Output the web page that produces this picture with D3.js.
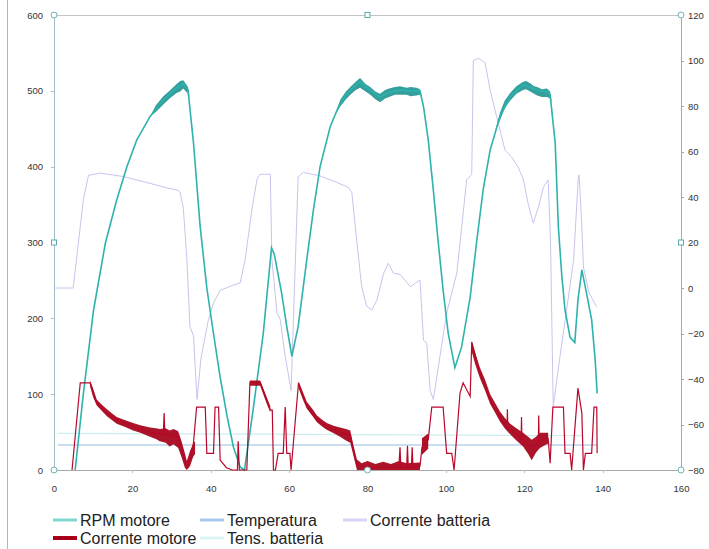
<!DOCTYPE html>
<meta charset="utf-8">
<head>
<style>
body {
  margin: 0;
  background: #fff;
  font-family: 'DejaVu Sans', sans-serif;
}

.axis text {
  font-size: 9.5px;
  fill: #333;
}

.axis path,
.axis line {
  fill: none;
  shape-rendering: crispEdges;
}

.legend text {
  font-family: 'Liberation Sans', Arial, sans-serif;
  font-size: 16px;
  fill: #222;
}
</style>
</head>

<body>
<div id="chart"></div>

<script src="https://d3js.org/d3.v7.min.js"></script>
<script>

// time in seconds
var rpmMotore = [[5.4,0],[7.5,101],[10.1,211],[13.1,299],[16,356],[18.6,400],[21.1,435],[24.5,466],[27.9,488],[31.3,504],[33,510],[34.2,501],[35.6,431],[37.3,321],[39,240],[40.7,180],[42.4,122],[44.2,70],[45.8,30],[47.5,4],[48.6,0],[50.8,79],[53.4,180],[55.5,293],[56.2,285],[58.1,233],[59.4,189],[60.7,150],[62.3,189],[64.5,277],[66.2,343],[67.9,400],[70.5,453],[73,484],[75.6,501],[78.1,512],[80.7,501],[83.2,492],[85.5,498],[88.3,501],[91,500],[93.4,500],[94.3,479],[95.5,435],[96.8,369],[98,303],[99.3,237],[100.6,180],[102.3,135],[104,162],[106.2,228],[107.9,303],[109.5,369],[111.3,422],[113.8,466],[116.4,492],[119.7,508],[121.5,505],[123.3,501],[125.8,499],[126.6,495],[127.9,431],[128.7,321],[129.6,255],[130.4,211],[131.7,175],[132.9,168],[133.7,224],[134.7,264],[135.9,233],[137.2,198],[138.1,145],[138.6,101]];

// noise envelope of the rpm trace near the peaks: [t, low, high]
var rpmBand = [[24.5,466,466],[26,472,481],[27.9,482,493],[29.5,490,500],[31.3,497,509],[32.2,499,513],[33,503,514],[34.2,496,505],[34.6,492,492],
  null,
  [72,470,470],[73,479,488],[74.5,489,499],[75.6,495,505],[77,501,512],[78.1,504,517],[79.5,499,509],[80.7,495,505],[82,489,499],[83.2,485,496],[84.5,490,501],[85.5,492,503],[87,495,505],[88.3,495,506],[90,495,504],[91,493,505],[92.5,494,504],[93.4,495,502],[93.8,490,490],
  null,
  [112.5,445,445],[113.8,461,471],[115,477,487],[116.4,487,497],[118,496,506],[119.7,501,512],[120.5,502,513],[121.5,499,510],[122.5,496,506],[123.3,494,505],[124.5,492,502],[125.8,492,503],[126.6,490,499],[127,485,485]];

var correnteMotore = [[4.6,0],[6.7,115],[9.2,115],[10.9,88],[13.5,75],[16,66],[20.2,57],[24.5,50],[27.9,47],[28.1,75],[28.3,47],[31.7,44],[32.6,26],[33.9,4],[34.7,13],[35.5,31],[36.4,83],[38.6,83],[39,22],[40.7,22],[41.1,83],[42,83],[42.4,13],[44,3],[45.5,0],[46.8,0],[47,38],[47.3,0],[48.6,0],[49.2,0],[50,116],[52.6,116],[54.3,92],[55.2,79],[55.7,79],[56,0],[56.5,0],[57.2,22],[58.5,22],[59,83],[59.4,22],[60.2,22],[60.5,0],[62.4,115],[64.5,84],[67.1,66],[69.6,57],[73,50],[75.6,46],[76.4,26],[77.3,7],[80,4],[84,3],[88,4],[88.3,30],[88.5,3],[90,4],[90.2,32],[90.4,3],[91.2,3],[91.4,30],[91.6,3],[93.4,5],[93.9,30],[95.5,40],[96.4,83],[99.3,83],[100.2,22],[101.5,22],[102.1,0],[103.6,101],[104.4,115],[106.2,97],[106.6,169],[108.7,128],[111.3,92],[113.8,70],[115.6,55],[115.7,80],[115.8,55],[116.4,53],[119.2,41],[119.3,70],[119.4,41],[119.7,40],[121.9,28],[123.6,38],[123.7,72],[123.8,38],[124,40],[126.1,42],[126.6,9],[127.3,83],[130,83],[130.4,22],[131.7,22],[132.1,0],[133.7,108],[134.7,75],[135.1,0],[135.6,22],[137.2,22],[137.8,83],[138.5,83],[138.6,22]];

// noise envelope of the motor current trace: [t, low, high]
var correnteMotoreBand = [[9.2,110,118],[10,96,107],[10.9,85,93],[12,79,87],[13.5,71,80],[15,65,74],[16,61,70],[18,57,66],[20.2,52,62],[22,49,59],[24.5,44,56],[26,41,55],[27,38,54],[28.5,36,55],[29.5,31,52],[30.5,34,54],[31.7,29,51],[32.6,16,37],[33.4,3,22],[33.9,0,12],[34.7,5,25],[35.5,17,35],[36,21,38],
  null,
  [50,111,118],[52.6,111,118],[54.3,87,96],[55.2,76,84],
  null,
  [62.4,108,116],[63.5,93,103],[64.5,81,90],[66,71,80],[67.1,63,72],[68.5,57,66],[69.6,53,62],[71.5,48,58],[73,44,56],[74.5,39,54],[75.6,36,52],[76.4,19,33],[77.3,0,14],[78.5,0,9],[80,0,12],[82,0,8],[84,0,11],[86,0,8],[88,0,12],[90,0,9],[93.4,0,10],
  null,
  [93.9,20,42],[95.5,28,48],
  null,
  [106.6,156,169],[107.5,139,154],[108.7,121,135],[110,105,119],[111.3,87,100],[112.5,76,89],[113.8,64,77],[115,55,69],[116.4,47,61],[118,39,55],[119.7,31,49],[121,21,44],[121.9,13,40],[123,23,44],[124,29,49],[125,32,49],[126.1,35,49]];

// right axis
var correnteBatteria = [[0,0],[4.9,0],[6.7,27],[7.5,39],[8.8,49.5],[11.8,50.5],[17.7,49],[24.5,46],[28.8,44],[31.7,43],[32.2,42],[33,35],[33.9,13],[34.7,-17],[35.6,-21],[36.5,-49],[37.5,-31],[39.4,-14],[40.7,-6.6],[42.4,-1],[45.8,1.3],[47.5,2.2],[48.8,12.7],[50.5,34.6],[51.8,47.8],[52.6,50],[55.2,50],[55.6,12.7],[56.9,-11],[57.7,-13.6],[59,-30],[60.5,-45],[62.3,48.8],[63.6,50.8],[67.9,49.3],[72.2,46.4],[75.1,44.2],[76,42],[77.3,20],[78.5,0.8],[79.8,-8],[81.1,-9.7],[82.4,-5.3],[84.1,6.4],[85.3,10.9],[86.6,6.5],[88.3,6],[91,0.5],[92.1,2],[93.4,3.5],[94.3,-23],[95.1,-24],[96,-45],[96.8,-49],[98.5,-30],[100.2,-11],[102.8,6.6],[105.3,47.5],[106.6,50],[107,100],[108.3,101],[110,99],[111.3,87],[113,75],[115.1,60.6],[116.8,57.5],[118.5,53],[119.8,47.5],[121,37],[122.3,28.5],[123.6,35.5],[124.9,44.4],[126.1,47.5],[126.7,21],[127.4,-52],[129,-31.6],[130.8,-9.7],[132.6,12.3],[133.8,48.8],[134,49.7],[134.7,26.8],[135.1,9.2],[136.5,-2],[138.5,-8.4]];

var temperatura = [[1,33],[138.6,33]];
var tensBatteria = [[1,48.4],[135,45.2]];

var xTicks = [0, 20, 40, 60, 80, 100, 120, 140, 160];
var yLeftTicks = [0, 100, 200, 300, 400, 500, 600];
var yRightTicks = [-80, -60, -40, -20, 0, 20, 40, 60, 80, 100, 120];

var legendItems = [
  {name: "RPM motore", color: "#7fd8d0", w: 3, col: 0, row: 0},
  {name: "Corrente motore", color: "#a8001a", w: 4, col: 0, row: 1},
  {name: "Temperatura", color: "#a6c8ee", w: 3, col: 1, row: 0},
  {name: "Tens. batteria", color: "#dcf4f2", w: 3, col: 1, row: 1},
  {name: "Corrente batteria", color: "#d6d3f3", w: 3, col: 2, row: 0}
];

var margin = {top: 15, right: 28, bottom: 79, left: 54},
    width = 709 - margin.left - margin.right,
    height = 549 - margin.top - margin.bottom;

var x = d3.scaleLinear().domain([0, 160]).range([0, width]);
var yL = d3.scaleLinear().domain([0, 600]).range([height, 0]);
var yR = d3.scaleLinear().domain([-80, 120]).range([height, 0]);

var root = d3.select("#chart").append("svg")
    .attr("width", 709)
    .attr("height", 549);

// frame edge on the far left
root.append("line")
    .attr("x1", 7.5).attr("x2", 7.5)
    .attr("y1", 0).attr("y2", 549)
    .attr("stroke", "#b5b5b5");

var svg = root.append("g")
    .attr("transform", "translate(" + margin.left + "," + margin.top + ")");

// top border
svg.append("line")
    .attr("x1", 0).attr("x2", width)
    .attr("y1", 0.5).attr("y2", 0.5)
    .attr("stroke", "#c4c4c4");

var xAxis = d3.axisBottom(x).tickValues(xTicks).tickSize(3).tickPadding(12);
var yAxisL = d3.axisLeft(yL).tickValues(yLeftTicks).tickSize(3).tickPadding(8);
var yAxisR = d3.axisRight(yR).tickValues(yRightTicks).tickSize(3).tickPadding(4);

svg.append("g")
    .attr("class", "x axis")
    .attr("transform", "translate(0," + height + ")")
    .call(xAxis)
    .call(function(g) {
      g.select(".domain").attr("stroke", "#aaa");
      g.selectAll("line").attr("stroke", "#bbb");
    });

svg.append("g")
    .attr("class", "y axis")
    .call(yAxisL)
    .call(function(g) {
      g.select(".domain").attr("stroke", "#9dbfc0").attr("stroke-width", 1.3);
      g.selectAll("line").attr("stroke", "#bbb");
    });

svg.append("g")
    .attr("class", "y axis")
    .attr("transform", "translate(" + width + ",0)")
    .call(yAxisR)
    .call(function(g) {
      g.select(".domain").attr("stroke", "#aaa");
      g.selectAll("line").attr("stroke", "#aaa");
    });

var lineL = d3.line()
    .x(function(d) { return x(d[0]); })
    .y(function(d) { return yL(d[1]); });

var lineR = d3.line()
    .x(function(d) { return x(d[0]); })
    .y(function(d) { return yR(d[1]); });

var bandL = d3.area()
    .defined(function(d) { return d !== null; })
    .x(function(d) { return x(d[0]); })
    .y0(function(d) { return yL(d[1]); })
    .y1(function(d) { return yL(d[2]); });

svg.append("path")
    .datum(tensBatteria)
    .attr("d", lineL)
    .attr("fill", "none")
    .attr("stroke", "#cdeeee")
    .attr("stroke-width", 1.2);

svg.append("path")
    .datum(temperatura)
    .attr("d", lineL)
    .attr("fill", "none")
    .attr("stroke", "#95bde6")
    .attr("stroke-width", 1.2);

svg.append("path")
    .datum(correnteBatteria)
    .attr("d", lineR)
    .attr("fill", "none")
    .attr("stroke", "#c8c4ee")
    .attr("stroke-width", 1);

svg.append("path")
    .datum(rpmBand)
    .attr("d", bandL)
    .attr("fill", "#1f9592")
    .attr("fill-opacity", 0.9);

svg.append("path")
    .datum(rpmMotore)
    .attr("d", lineL)
    .attr("fill", "none")
    .attr("stroke", "#2db3ac")
    .attr("stroke-width", 1.6);

svg.append("path")
    .datum(correnteMotoreBand)
    .attr("d", bandL)
    .attr("fill", "#a50017")
    .attr("fill-opacity", 0.92);

svg.append("path")
    .datum(correnteMotore)
    .attr("d", lineL)
    .attr("fill", "none")
    .attr("stroke", "#b8072a")
    .attr("stroke-width", 1.2);

// selection handles on the plot area
var handles = [
  {t: 0, v: 600, sq: false}, {t: 0, v: 300, sq: true}, {t: 0, v: 0, sq: false},
  {t: 80, v: 600, sq: true}, {t: 80, v: 0, sq: false},
  {t: 160, v: 600, sq: false}, {t: 160, v: 300, sq: true}, {t: 160, v: 0, sq: false}
];

handles.forEach(function(h) {
  if (h.sq) {
    svg.append("rect")
        .attr("x", x(h.t) - 2.5).attr("y", yL(h.v) - 2.5)
        .attr("width", 5).attr("height", 5)
        .attr("fill", "#fff").attr("stroke", "#5aaab0");
  } else {
    svg.append("circle")
        .attr("cx", x(h.t)).attr("cy", yL(h.v)).attr("r", 3)
        .attr("fill", "#fff").attr("stroke", "#6db4b4");
  }
});

// legend
var colX = [53, 200, 343];
var rowY = [520, 538];

var legend = root.append("g").attr("class", "legend");

legendItems.forEach(function(d) {
  legend.append("line")
      .attr("x1", colX[d.col]).attr("x2", colX[d.col] + 24)
      .attr("y1", rowY[d.row]).attr("y2", rowY[d.row])
      .attr("stroke", d.color)
      .attr("stroke-width", d.w);
  legend.append("text")
      .attr("x", colX[d.col] + 27)
      .attr("y", rowY[d.row] + 6)
      .text(d.name);
});

</script>
</body>
